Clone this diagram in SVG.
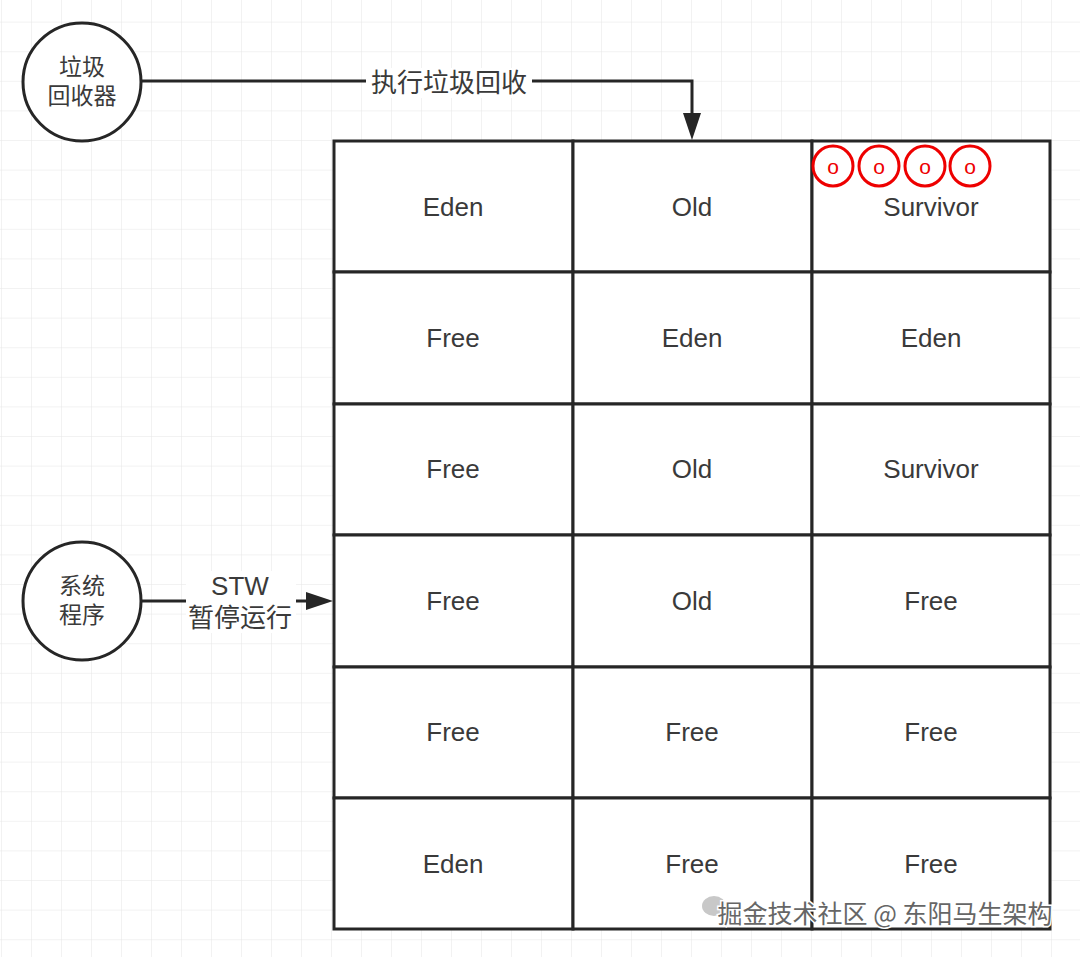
<svg xmlns="http://www.w3.org/2000/svg" width="1080" height="957" viewBox="0 0 1080 957">
<defs>
<pattern id="grid" width="30" height="29.6" patternUnits="userSpaceOnUse" x="2" y="-7">
<path d="M30 0V29.6M0 29.6H30" fill="none" stroke="#e6e6e6" stroke-width="1"/>
</pattern>
</defs>
<style>
.ln{fill:none;stroke:#262626;stroke-width:3}
.cell{fill:#fff;stroke:#262626;stroke-width:3}
.t{font-family:"Liberation Sans","Noto Sans CJK SC",sans-serif;font-size:26px;fill:#3a3a3a;text-anchor:middle;dominant-baseline:central}
.c{font-family:"Liberation Sans","Noto Sans CJK SC",sans-serif;font-size:23px;fill:#3a3a3a;text-anchor:middle;dominant-baseline:central}
.rc{fill:#fff;stroke:#e00;stroke-width:3}
.ro{font-family:"Liberation Sans",sans-serif;font-size:21px;fill:#e00;text-anchor:middle;dominant-baseline:central}
.ah{fill:#262626}
</style>
<rect width="1080" height="957" fill="#fff"/>
<rect width="1080" height="957" fill="url(#grid)"/>

<g id="connectors">
<path class="ln" d="M142 81H692V114"/>
<polygon class="ah" points="683,113 701,113 692,140"/>
<rect x="366" y="68" width="166" height="30" fill="#fff"/>
<text class="t" x="449" y="83">执行垃圾回收</text>
<path class="ln" d="M142 601H306"/>
<polygon class="ah" points="306,592 306,610 333,601"/>
<rect x="186" y="571" width="110" height="62" fill="#fff"/>
<text class="t" x="240" y="586">STW</text>
<text class="t" x="240" y="618">暂停运行</text>
</g>

<g id="gc">
<circle cx="82" cy="82" r="59" fill="#fff" stroke="#262626" stroke-width="3"/>
<text class="c" x="82" y="67">垃圾</text>
<text class="c" x="82" y="96">回收器</text>
</g>
<g id="app">
<circle cx="82" cy="601" r="59" fill="#fff" stroke="#262626" stroke-width="3"/>
<text class="c" x="82" y="586">系统</text>
<text class="c" x="82" y="615">程序</text>
</g>

<g id="heap">
<g id="r0c0"><rect class="cell" x="334" y="141" width="239" height="131"/><text class="t" x="453" y="207">Eden</text></g>
<g id="r0c1"><rect class="cell" x="573" y="141" width="239" height="131"/><text class="t" x="692" y="207">Old</text></g>
<g id="r0c2"><rect class="cell" x="812" y="141" width="238" height="131"/><text class="t" x="931" y="207">Survivor</text></g>
<g id="r1c0"><rect class="cell" x="334" y="272" width="239" height="132"/><text class="t" x="453" y="338">Free</text></g>
<g id="r1c1"><rect class="cell" x="573" y="272" width="239" height="132"/><text class="t" x="692" y="338">Eden</text></g>
<g id="r1c2"><rect class="cell" x="812" y="272" width="238" height="132"/><text class="t" x="931" y="338">Eden</text></g>
<g id="r2c0"><rect class="cell" x="334" y="404" width="239" height="131"/><text class="t" x="453" y="469">Free</text></g>
<g id="r2c1"><rect class="cell" x="573" y="404" width="239" height="131"/><text class="t" x="692" y="469">Old</text></g>
<g id="r2c2"><rect class="cell" x="812" y="404" width="238" height="131"/><text class="t" x="931" y="469">Survivor</text></g>
<g id="r3c0"><rect class="cell" x="334" y="535" width="239" height="132"/><text class="t" x="453" y="601">Free</text></g>
<g id="r3c1"><rect class="cell" x="573" y="535" width="239" height="132"/><text class="t" x="692" y="601">Old</text></g>
<g id="r3c2"><rect class="cell" x="812" y="535" width="238" height="132"/><text class="t" x="931" y="601">Free</text></g>
<g id="r4c0"><rect class="cell" x="334" y="667" width="239" height="131"/><text class="t" x="453" y="732">Free</text></g>
<g id="r4c1"><rect class="cell" x="573" y="667" width="239" height="131"/><text class="t" x="692" y="732">Free</text></g>
<g id="r4c2"><rect class="cell" x="812" y="667" width="238" height="131"/><text class="t" x="931" y="732">Free</text></g>
<g id="r5c0"><rect class="cell" x="334" y="798" width="239" height="131"/><text class="t" x="453" y="864">Eden</text></g>
<g id="r5c1"><rect class="cell" x="573" y="798" width="239" height="131"/><text class="t" x="692" y="864">Free</text></g>
<g id="r5c2"><rect class="cell" x="812" y="798" width="238" height="131"/><text class="t" x="931" y="864">Free</text></g>
</g>

<g id="objects">
<circle class="rc" cx="833" cy="166" r="20"/><text class="ro" x="833" y="166">o</text>
<circle class="rc" cx="879" cy="166" r="20"/><text class="ro" x="879" y="166">o</text>
<circle class="rc" cx="925" cy="166" r="20"/><text class="ro" x="925" y="166">o</text>
<circle class="rc" cx="970" cy="166" r="20"/><text class="ro" x="970" y="166">o</text>
</g>

<g id="watermark">
<ellipse cx="714" cy="906" rx="12" ry="10" fill="#c8c8c8"/>
<text x="885" y="912" font-family="'Noto Sans CJK SC',sans-serif" font-size="25" fill="#666" stroke="#fff" stroke-width="3" paint-order="stroke" text-anchor="middle" dominant-baseline="central">掘金技术社区 @ 东阳马生架构</text>
</g>
</svg>
